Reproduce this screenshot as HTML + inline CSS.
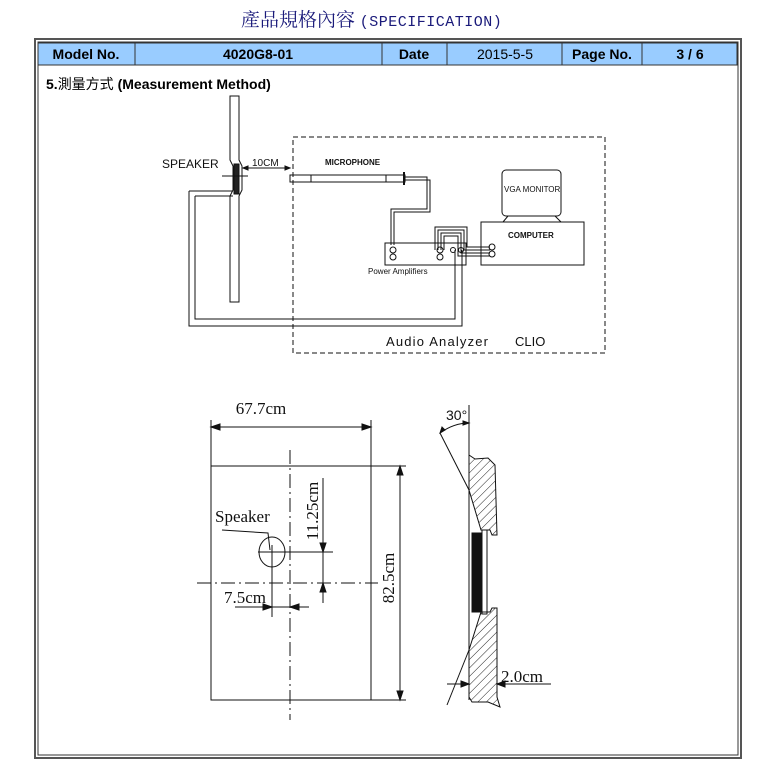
<!DOCTYPE html>
<html><head><meta charset="utf-8"><style>
body{margin:0;background:#fff;width:771px;height:771px;overflow:hidden;position:relative;font-family:"Liberation Sans","Noto Sans CJK TC",sans-serif}
.t{position:absolute;white-space:nowrap}
</style></head><body>
<div class="t" style="left:241px;top:5px;font-size:19px;color:#1a1a7a;font-family:'Liberation Serif','Noto Serif CJK SC',serif">產品規格內容 <span style="font-family:'Liberation Mono',monospace;font-size:15px;letter-spacing:0.5px">(SPECIFICATION)</span></div>
<svg width="771" height="771" style="position:absolute;left:0;top:0" font-family="Liberation Sans, sans-serif">
<rect x="35" y="39" width="706" height="719" fill="none" stroke="#555" stroke-width="2"/>
<rect x="38" y="42" width="700" height="713" fill="none" stroke="#333" stroke-width="1"/>
<rect x="38" y="43" width="699" height="22" fill="#99ccff" stroke="#333"/>
<g stroke="#333"><line x1="135" y1="43" x2="135" y2="65"/><line x1="382" y1="43" x2="382" y2="65"/><line x1="447" y1="43" x2="447" y2="65"/><line x1="562" y1="43" x2="562" y2="65"/><line x1="642" y1="43" x2="642" y2="65"/></g>
<g font-size="14" font-weight="bold" fill="#000">
<text x="86" y="59" text-anchor="middle">Model  No.</text>
<text x="258" y="59" text-anchor="middle">4020G8-01</text>
<text x="414" y="59" text-anchor="middle">Date</text>
<text x="505" y="59" text-anchor="middle" font-weight="normal">2015-5-5</text>
<text x="602" y="59" text-anchor="middle">Page No.</text>
<text x="690" y="59" text-anchor="middle">3 / 6</text>
</g>
<text x="46" y="89" font-size="14" font-weight="bold" font-family="Liberation Sans, Noto Sans CJK TC, sans-serif">5.<tspan font-weight="normal">測量方式</tspan> (Measurement Method)</text>

<!-- top diagram -->
<g fill="none" stroke="#111" stroke-width="1">
<path d="M230,96 H239 V160 L242,166 V190 L239,196 V302 H230 V196 L233,190 V166 L230,160 Z" fill="#fff"/>
<rect x="234" y="164" width="5" height="30" fill="#222"/>
<line x1="222" y1="176" x2="248" y2="176"/>
<line x1="243" y1="168" x2="290" y2="168"/>
<path d="M243,168 l5,-2 v4 z M290,168 l-5,-2 v4z" fill="#111"/>
<rect x="293" y="137" width="312" height="216" stroke-dasharray="5,3"/>
<path d="M290,175 H405 V182 H290 Z"/>
<line x1="311" y1="175" x2="311" y2="182"/><line x1="386" y1="175" x2="386" y2="182"/><line x1="404" y1="172" x2="404" y2="185" stroke-width="2"/>
<path d="M405,177 H427 V209 H391 V245 M405,180 H430 V212 H394 V245" />
<rect x="385" y="243" width="81" height="22"/>
<rect x="481" y="222" width="103" height="43"/>
<rect x="502" y="170" width="59" height="46" rx="4"/>
<path d="M508,216 L503,222 M555,216 L561,222"/>
<path d="M189,191 H233 M195,196 H233 M189,191 V326 H462 V250 M195,196 V319 H455 V250"/>
<path d="M438,250 V230 H464 V250 H490 M441,250 V233 H461 V253 H490 M444,250 V236 H458 V256 H490 M435,250 V227 H467 V247 H490"/>
<circle cx="393" cy="250" r="3"/><circle cx="393" cy="257" r="3"/>
<circle cx="440" cy="250" r="3"/><circle cx="440" cy="257" r="3"/>
<circle cx="453" cy="250" r="2.5"/><circle cx="461" cy="250" r="2.5"/>
<circle cx="492" cy="247" r="3"/><circle cx="492" cy="254" r="3"/>
</g>
<g font-family="Liberation Sans Narrow, Liberation Sans, sans-serif" fill="#111">
<text x="162" y="168" font-size="12">SPEAKER</text>
<text x="252" y="166" font-size="10">10CM</text>
<text x="325" y="165" font-size="8" font-weight="bold">MICROPHONE</text>
<text x="504" y="192" font-size="8">VGA MONITOR</text>
<text x="508" y="238" font-size="8" font-weight="bold">COMPUTER</text>
<text x="368" y="274" font-size="8">Power Amplifiers</text>
<text x="386" y="346" font-size="13" textLength="102">Audio  Analyzer</text>
<text x="515" y="346" font-size="13">CLIO</text>
</g>

<!-- bottom diagram -->
<defs><pattern id="h" width="6" height="6" patternUnits="userSpaceOnUse" patternTransform="rotate(45)"><line x1="0" y1="0" x2="0" y2="6" stroke="#222" stroke-width="1"/></pattern></defs>
<g fill="none" stroke="#111" stroke-width="1">
<rect x="211" y="466" width="160" height="234"/>
<line x1="211" y1="420" x2="211" y2="466"/><line x1="371" y1="420" x2="371" y2="466"/>
<line x1="211" y1="427" x2="371" y2="427"/>
<path d="M211,427 l9,-3 v6z M371,427 l-9,-3 v6z" fill="#111"/>
<line x1="371" y1="466" x2="406" y2="466"/><line x1="371" y1="700" x2="406" y2="700"/>
<line x1="400" y1="466" x2="400" y2="700"/>
<path d="M400,466 l-3,9 h6z M400,700 l-3,-9 h6z" fill="#111"/>
<line x1="290" y1="450" x2="290" y2="720" stroke-dasharray="14,4,2,4"/>
<line x1="197" y1="583" x2="378" y2="583" stroke-dasharray="14,4,2,4"/>
<ellipse cx="272" cy="552" rx="13" ry="15"/>
<line x1="258" y1="552" x2="333" y2="552"/>
<path d="M222,530 L268,533 L270,550"/>
<line x1="272" y1="545" x2="272" y2="617"/>
<line x1="323" y1="478" x2="323" y2="603"/>
<path d="M323,552 l-3,-9 h6z M323,583 l-3,9 h6z" fill="#111"/>
<line x1="235" y1="607" x2="309" y2="607"/>
<path d="M272,607 l-9,-3 v6z M290,607 l9,-3 v6z" fill="#111"/>
<line x1="469" y1="405" x2="469" y2="700"/>
<path d="M469,455 L475,459 L488,458 L495,465 L497,535 L492,535 L490,530 L481,530 L469,490 Z" fill="url(#h)"/>
<path d="M469,650 L481,612 L490,612 L492,608 L497,608 L497,697 L500,707 L488,702 L472,702 L469,697 Z" fill="url(#h)"/>
<rect x="472" y="533" width="10" height="79" fill="#111"/>
<rect x="482" y="530" width="5" height="84"/>
<line x1="440" y1="433" x2="469" y2="490"/>
<line x1="469" y1="650" x2="447" y2="705"/>
<path d="M440,433 Q454,423 469,423"/>
<path d="M440,433 l2,-6 l3,3z M469,423 l-6,-2 v4z" fill="#111"/>
<line x1="447" y1="684" x2="469" y2="684"/><line x1="497" y1="684" x2="551" y2="684"/>
<path d="M469,684 l-8,-3 v6z M497,684 l8,-3 v6z" fill="#111"/>
</g>
<g font-family="Liberation Serif, serif" fill="#111">
<text x="261" y="414" font-size="17" text-anchor="middle">67.7cm</text>
<text x="215" y="522" font-size="17">Speaker</text>
<text x="224" y="603" font-size="17">7.5cm</text>
<text x="501" y="682" font-size="17">2.0cm</text>
<text font-size="17" transform="translate(318,511) rotate(-90)" text-anchor="middle">11.25cm</text>
<text font-size="17" transform="translate(394,578) rotate(-90)" text-anchor="middle">82.5cm</text>
<text x="446" y="420" font-size="14" font-family="Liberation Sans, sans-serif">30°</text>
</g>
</svg>
</body></html>
